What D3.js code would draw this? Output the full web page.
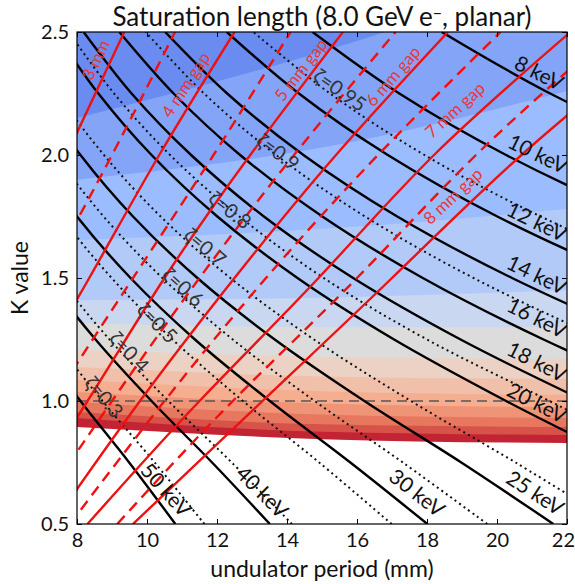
<!DOCTYPE html>
<html><head><meta charset="utf-8">
<script src="https://cdn.jsdelivr.net/npm/d3@7"></script>
<style>body{margin:0;background:#fff} text{font-family:Lato,"Open Sans",sans-serif}</style>
</head><body><svg id="c" width="575" height="584"></svg>
<script>
// ---- data ----
const xTicks = [8,10,12,14,16,18,20,22];
const yTicks = [0.5,1.0,1.5,2.0,2.5];
// K values at which every contour below is sampled
const kGrid = [0.5,0.75,1.0,1.25,1.5,1.75,2.0,2.25,2.5];
// photon energy contours (keV): undulator period (mm) at each kGrid value
const energyLevels = [8,10,12,14,16,18,20,25,30,40,50];
const energyPeriods = [
 [67.53,59.30,50.65,42.65,35.75,30.01,25.33,21.52,18.42],
 [54.03,47.44,40.52,34.12,28.60,24.01,20.26,17.21,14.73],
 [45.02,39.53,33.77,28.44,23.84,20.01,16.88,14.34,12.28],
 [38.59,33.88,28.94,24.37,20.43,17.15,14.47,12.29,10.52],
 [33.77,29.65,25.33,21.33,17.88,15.01,12.66,10.76,9.21],
 [30.02,26.35,22.51,18.96,15.89,13.34,11.26,9.56,8.19],
 [27.01,23.72,20.26,17.06,14.30,12.01,10.13,8.61,7.37],
 [21.61,18.98,16.21,13.65,11.44,9.60,8.10,6.88,5.89],
 [18.01,15.81,13.51,11.37,9.53,8.00,6.75,5.74,4.91],
 [13.51,11.86,10.13,8.53,7.15,6.00,5.07,4.30,3.68],
 [10.81,9.49,8.10,6.82,5.72,4.80,4.05,3.44,2.95]
];
// zeta contours (dotted): period (mm) at each kGrid value
const zetaLevels = [0.95,0.9,0.8,0.7,0.6,0.5,0.4,0.3];
const zetaPeriods = [
 [47.81,41.98,35.86,30.20,25.31,21.25,17.93,15.23,13.04],
 [36.51,32.05,27.38,23.06,19.33,16.23,13.69,11.63,9.96],
 [28.44,24.97,21.50,18.00,15.05,12.64,10.66,9.06,7.76],
 [23.39,20.53,17.54,14.77,12.38,10.39,8.77,7.45,6.38],
 [19.72,17.31,14.79,12.45,10.44,8.76,7.39,6.28,5.38],
 [16.99,14.92,12.74,10.73,8.99,7.55,6.37,5.41,4.63],
 [14.14,12.42,10.61,8.93,7.49,6.29,5.30,4.51,3.86],
 [11.64,10.22,8.73,7.35,6.16,5.18,4.37,3.71,3.18]
];
// magnetic gap contours (mm): [period mm, K] points
const gapLevels = [3,3.5,4,4.5,5,5.5,6,6.5,7,7.5,8];
const gapLines = [
 [[6.0,1.5],[7.7,2.0],[9.35,2.5]],
 [[7.1,1.5],[9.0,2.0],[10.8,2.5]],
 [[6.3,1.0],[8.35,1.5],[10.35,2.0],[12.5,2.5]],
 [[7.3,1.0],[9.6,1.5],[11.9,2.0],[14.1,2.5]],
 [[6.0,0.5],[8.3,1.0],[10.5,1.5],[12.95,2.0],[15.6,2.5]],
 [[6.6,0.5],[9.0,1.0],[11.5,1.5],[14.2,2.0],[17.1,2.5]],
 [[7.3,0.5],[9.8,1.0],[12.5,1.5],[15.4,2.0],[18.6,2.5]],
 [[7.8,0.5],[10.5,1.0],[13.4,1.5],[16.6,2.0],[20.1,2.5]],
 [[8.3,0.5],[11.5,1.0],[14.9,1.5],[18.2,2.0],[22.1,2.5]],
 [[9.15,0.5],[12.45,1.0],[16.0,1.5],[19.4,2.0],[23.3,2.5]],
 [[9.6,0.5],[13.3,1.0],[17.0,1.5],[20.7,2.0],[24.9,2.5]]
];
// saturation length fill: band edges as K at period 8, 15, 22 mm (lowest first)
const bandPeriods = [8,15,22];
const bandEdges = [
 [0.894,0.845,0.829],
 [0.931,0.875,0.862],
 [0.955,0.905,0.894],
 [0.996,0.945,0.931],
 [1.037,0.990,0.975],
 [1.085,1.040,1.025],
 [1.138,1.100,1.090],
 [1.207,1.180,1.170],
 [1.317,1.300,1.300],
 [1.410,1.420,1.450],
 [1.654,1.700,1.780],
 [1.900,2.030,2.260],
 [2.150,2.420,2.750]
];
// colour-map position of each band (lowest first)
const bandShade = [0.955,0.89,0.825,0.76,0.695,0.63,0.565,0.5,0.43,0.36,0.29,0.22,0.15];

// ---- layout ----
const svg = d3.select("#c");
const X0=77,X1=567,Y0=32,Y1=524;
const x = d3.scaleLinear().domain([8,22]).range([X0,X1]);
const y = d3.scaleLinear().domain([0.5,2.5]).range([Y1,Y0]);
const cmap = d3.scaleLinear()
 .domain([0,1/7,2/7,3/7,0.5,4/7,5/7,6/7,1])
 .range(["#3b4cc0","#6788ee","#9abbff","#c9d7f0","#dddcdc","#edd1c2","#f7a889","#e26952","#b40426"])
 .interpolate(d3.interpolateRgb);

svg.append("clipPath").attr("id","clip").append("rect")
 .attr("x",X0).attr("y",Y0).attr("width",X1-X0).attr("height",Y1-Y0);
const plot = svg.append("g").attr("clip-path","url(#clip)");

// fill bands (painted lowest first, each covering everything above its edge)
const area = d3.area().x(d=>x(d[0])).y0(y(2.6)).y1(d=>y(d[1])).curve(d3.curveMonotoneX);
bandEdges.forEach((edge,i)=>{
  const pts = bandPeriods.map((p,j)=>[p,edge[j]]);
  plot.append("path").attr("d",area(pts)).attr("fill",cmap(bandShade[i])).attr("stroke","none");
});

const lineGen = d3.line().x(d=>x(d[0])).y(d=>y(d[1])).curve(d3.curveCatmullRom.alpha(0.5));

// K = 1 reference
plot.append("line").attr("x1",X0).attr("x2",X1).attr("y1",y(1)).attr("y2",y(1))
 .attr("stroke","#555").attr("stroke-width",1.6).attr("stroke-dasharray","10,6");

// zeta dotted
zetaPeriods.forEach(row=>{
  plot.append("path").attr("d",lineGen(row.map((l,i)=>[l,kGrid[i]])))
   .attr("fill","none").attr("stroke","#111").attr("stroke-width",2).attr("stroke-dasharray","2,3.5");
});
// energy contours
energyPeriods.forEach(row=>{
  plot.append("path").attr("d",lineGen(row.map((l,i)=>[l,kGrid[i]])))
   .attr("fill","none").attr("stroke","#000").attr("stroke-width",2.4);
});
// gap contours
const gapGen = d3.line().x(d=>x(d[0])).y(d=>y(d[1])).curve(d3.curveNatural);
gapLines.forEach((pts,i)=>{
  const whole = gapLevels[i]%1===0;
  plot.append("path").attr("d",gapGen(pts)).attr("fill","none").attr("stroke","#ee1111")
   .attr("stroke-width",2.4).attr("stroke-dasharray",whole?null:"11,7");
});

// labels
const energyLabelPos = [[21.2,2.333,27],[21.17,2.004,26],[21.14,1.728,26],[21.14,1.512,26],[21.14,1.337,27],
 [21.14,1.159,27],[21.14,0.992,27],[21.09,0.626,33],[17.71,0.626,38],[13.29,0.63,45],[10.54,0.638,48]];
energyLevels.forEach((e,i)=>{
  const p = energyLabelPos[i];
  plot.append("text").attr("transform",`translate(${x(p[0])},${y(p[1])}) rotate(${p[2]})`)
   .attr("text-anchor","middle").attr("dy","0.35em").attr("font-size",21).attr("fill","#111")
   .text(e+" keV");
});
const zetaLabelPos = [[15.51,2.264,35],[13.74,2.012,37],[12.37,1.776,38],[11.66,1.626,40],[11.03,1.463,42],
 [10.29,1.317,45],[9.49,1.199,47],[8.77,1.016,50]];
zetaLevels.forEach((z,i)=>{
  const p = zetaLabelPos[i];
  plot.append("text").attr("transform",`translate(${x(p[0])},${y(p[1])}) rotate(${p[2]})`)
   .attr("text-anchor","middle").attr("dy","0.35em").attr("font-size",20).attr("fill","#333")
   .text("ζ="+z);
});
const gapLabelPos = [[8.54,2.386,-64,"3 mm"],[11.11,2.285,-57,"4 mm gap"],[14.4,2.346,-52,"5 mm gap"],
 [17.03,2.32,-49,"6 mm gap"],[18.8,2.183,-42,"7 mm gap"],[18.74,1.833,-43,"8 mm gap"]];
gapLabelPos.forEach(p=>{
  plot.append("text").attr("transform",`translate(${x(p[0])},${y(p[1])}) rotate(${p[2]})`)
   .attr("text-anchor","middle").attr("dy","0.35em").attr("font-size",17).attr("fill","#e83838")
   .text(p[3]);
});

// axes
const ax = svg.append("g");
ax.append("g").attr("transform",`translate(0,${Y1})`)
 .call(d3.axisBottom(x).tickValues(xTicks).tickSize(-5).tickPadding(9).tickFormat(d3.format("d")));
ax.append("g").attr("transform",`translate(${X0},0)`)
 .call(d3.axisLeft(y).tickValues(yTicks).tickSize(-5).tickPadding(8).tickFormat(d3.format(".1f")));
ax.append("g").attr("transform",`translate(0,${Y0})`)
 .call(d3.axisTop(x).tickValues(xTicks).tickSize(-5).tickFormat(""));
ax.append("g").attr("transform",`translate(${X1},0)`)
 .call(d3.axisRight(y).tickValues(yTicks).tickSize(-5).tickFormat(""));
ax.selectAll(".domain").remove();
ax.selectAll(".tick line").attr("stroke","#000").attr("stroke-width",1);
ax.selectAll(".tick text").attr("font-size",20).attr("fill","#111").style("font-family","Lato,'Open Sans',sans-serif");
// keep the last period label inside the window
ax.selectAll(".tick text").filter(d=>d===22).attr("text-anchor","end").attr("x",7.5);
svg.append("rect").attr("x",X0).attr("y",Y0).attr("width",X1-X0).attr("height",Y1-Y0)
 .attr("fill","none").attr("stroke","#000").attr("stroke-width",1.2);

svg.append("text").attr("x",322).attr("y",577).attr("text-anchor","middle").attr("font-size",23)
 .attr("fill","#111").text("undulator period (mm)");
svg.append("text").attr("transform","translate(28,278) rotate(-90)").attr("text-anchor","middle")
 .attr("font-size",23).attr("fill","#111").text("K value");
const t = svg.append("text").attr("x",322).attr("y",26).attr("text-anchor","middle").attr("font-size",26).attr("fill","#111");
t.append("tspan").text("Saturation length (8.0 GeV e");
t.append("tspan").attr("dy",-7).attr("font-size",16).text("−");
t.append("tspan").attr("dy",7).text(", planar)");
</script></body></html>
